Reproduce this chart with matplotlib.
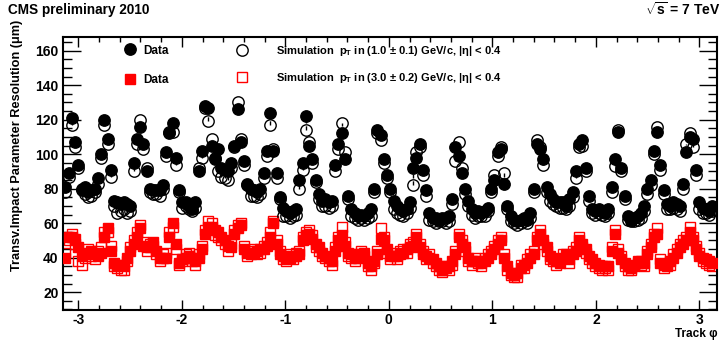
import numpy as np
import matplotlib
matplotlib.use("Agg")
import matplotlib.pyplot as plt
from matplotlib.lines import Line2D
from matplotlib.ticker import MultipleLocator

plt.rcParams['font.family'] = ['Liberation Sans', 'DejaVu Sans']
plt.rcParams['font.weight'] = 'bold'
plt.rcParams['mathtext.fontset'] = 'custom'
plt.rcParams['mathtext.rm'] = 'Liberation Sans:bold'
plt.rcParams['mathtext.it'] = 'Liberation Sans:bold'
plt.rcParams['mathtext.bf'] = 'Liberation Sans:bold'

# ---- data (200 phi bins over [-pi, pi]) ----
n_bins = 200
phi_min, phi_max = -np.pi, np.pi

black_data = [
    81, 89, 121, 107, 94, 79, 81, 78, 79, 80,
    86, 100, 120, 109, 91, 73, 72, 71, 72, 71,
    70, 95, 109, 116, 106, 90, 80, 79, 79, 79,
    82, 101, 112, 118, 98, 79, 72, 72, 70, 68,
    72, 90, 102, 128, 127, 105, 97, 103, 92, 91,
    90, 95, 105, 126, 107, 96, 83, 80, 79, 78,
    80, 89, 102, 124, 102, 89, 75, 69, 67, 66,
    67, 68, 85, 95, 122, 105, 97, 85, 77, 73,
    74, 72, 73, 94, 106, 112, 97, 76, 68, 66,
    64, 65, 64, 66, 68, 80, 114, 111, 97, 88,
    80, 73, 70, 68, 67, 68, 72, 92, 98, 106,
    91, 79, 66, 63, 63, 62, 63, 63, 64, 74,
    104, 99, 89, 80, 73, 68, 66, 67, 66, 67,
    69, 80, 85, 101, 103, 83, 70, 64, 62, 61,
    62, 63, 62, 66, 80, 106, 103, 97, 81, 77,
    74, 72, 72, 72, 70, 74, 78, 90, 106, 108,
    92, 76, 68, 67, 68, 67, 66, 68, 81, 97,
    113, 92, 76, 64, 62, 63, 64, 66, 70, 80,
    85, 102, 113, 94, 79, 71, 70, 72, 71, 70,
    83, 101, 110, 109, 91, 72, 69, 68, 67, 70,
]
black_sim = [
    78, 87, 117, 104, 92, 80, 77, 75, 76, 78,
    83, 98, 117, 106, 87, 70, 66, 67, 68, 66,
    67, 90, 106, 120, 103, 92, 78, 77, 77, 76,
    80, 99, 113, 113, 94, 78, 69, 70, 68, 67,
    69, 92, 98, 127, 119, 109, 98, 90, 87, 86,
    85, 92, 104, 130, 109, 94, 82, 76, 76, 75,
    77, 86, 99, 117, 103, 86, 74, 64, 64, 63,
    64, 65, 80, 91, 114, 107, 95, 84, 74, 70,
    70, 69, 70, 90, 103, 118, 101, 74, 64, 63,
    62, 63, 62, 63, 64, 78, 112, 108, 95, 86,
    78, 68, 66, 65, 64, 66, 69, 82, 101, 104,
    88, 76, 62, 61, 60, 61, 61, 60, 61, 71,
    96, 107, 92, 77, 70, 65, 63, 64, 64, 64,
    67, 78, 88, 99, 104, 89, 68, 61, 60, 59,
    60, 61, 60, 63, 78, 108, 104, 94, 78, 73,
    71, 70, 69, 69, 68, 70, 75, 86, 104, 105,
    90, 73, 66, 65, 66, 65, 64, 66, 78, 93,
    114, 90, 74, 62, 61, 61, 62, 63, 67, 77,
    82, 100, 116, 91, 77, 68, 68, 69, 68, 67,
    80, 106, 112, 104, 88, 68, 66, 66, 65, 67,
]
red_data = [
    40, 52, 52, 51, 46, 41, 42, 43, 44, 42,
    41, 43, 52, 57, 44, 37, 36, 36, 35, 40,
    44, 48, 52, 57, 47, 46, 46, 49, 44, 40,
    40, 40, 52, 60, 48, 37, 39, 40, 41, 40,
    38, 40, 45, 54, 58, 58, 56, 55, 52, 50,
    47, 46, 54, 57, 59, 45, 43, 42, 43, 44,
    45, 45, 47, 52, 60, 48, 42, 41, 40, 40,
    41, 41, 42, 50, 53, 54, 51, 48, 46, 43,
    41, 40, 38, 44, 50, 53, 47, 43, 42, 40,
    40, 42, 43, 37, 35, 38, 42, 51, 50, 45,
    41, 41, 41, 42, 43, 45, 46, 47, 52, 46,
    42, 41, 40, 39, 37, 35, 33, 34, 35, 38,
    42, 52, 48, 46, 40, 38, 38, 38, 37, 38,
    40, 42, 45, 48, 50, 40, 35, 31, 30, 31,
    34, 36, 37, 40, 42, 50, 54, 50, 46, 41,
    40, 38, 37, 40, 42, 39, 42, 44, 50, 48,
    45, 41, 39, 37, 36, 35, 35, 35, 44, 54,
    43, 39, 37, 35, 34, 36, 38, 38, 37, 42,
    46, 52, 54, 37, 36, 36, 38, 40, 43, 46,
    48, 50, 55, 50, 45, 41, 40, 39, 38, 37,
]
red_sim = [
    43, 50, 54, 48, 38, 36, 40, 45, 41, 39,
    44, 46, 55, 55, 47, 35, 34, 33, 33, 38,
    46, 50, 55, 59, 49, 44, 48, 47, 42, 38,
    42, 43, 55, 58, 45, 36, 38, 42, 43, 38,
    36, 42, 47, 56, 61, 60, 53, 52, 50, 48,
    44, 48, 56, 59, 60, 47, 41, 44, 45, 42,
    43, 47, 49, 55, 61, 50, 44, 39, 38, 42,
    39, 43, 44, 52, 55, 56, 53, 46, 44, 41,
    40, 38, 36, 46, 52, 58, 49, 41, 40, 38,
    42, 44, 41, 35, 33, 37, 44, 57, 52, 43,
    39, 43, 39, 44, 45, 43, 48, 49, 54, 48,
    44, 39, 42, 37, 35, 33, 32, 35, 33, 36,
    44, 54, 50, 44, 38, 36, 40, 37, 35, 40,
    42, 44, 47, 50, 52, 42, 33, 30, 29, 29,
    36, 34, 39, 42, 44, 52, 56, 48, 44, 39,
    38, 36, 39, 42, 40, 37, 44, 46, 52, 46,
    43, 39, 37, 35, 34, 33, 34, 33, 46, 56,
    45, 41, 35, 33, 33, 35, 37, 36, 35, 44,
    48, 54, 57, 39, 34, 35, 36, 42, 45, 48,
    50, 52, 58, 52, 47, 43, 38, 37, 36, 35,
]

x_ticks = [-3, -2, -1, 0, 1, 2, 3]
y_ticks = [20, 40, 60, 80, 100, 120, 140, 160]

edges = np.linspace(phi_min, phi_max, n_bins + 1)
phi = 0.5 * (edges[:-1] + edges[1:])
bd, bs = np.array(black_data), np.array(black_sim)
rd, rs = np.array(red_data), np.array(red_sim)

W, H = 722, 342
fig = plt.figure(figsize=(W / 100, H / 100), dpi=100)
L, R, B, T = 62.7, 716.7, 310, 37
ax = fig.add_axes([L / W, 1 - B / H, (R - L) / W, (B - T) / H])

ms_c = 8.2
ms_s = 7.8
# dashed connectors between data and simulation (black series)
ax.vlines(phi, np.minimum(bd, bs), np.maximum(bd, bs), colors='black',
          linestyles=(0, (3, 2)), linewidth=1.0, zorder=1)
ax.plot(phi, rs, linestyle='none', marker='s', ms=ms_s, mfc='none',
        mec='#ff0000', mew=1.0, zorder=2)
ax.plot(phi, rd, linestyle='none', marker='s', ms=ms_s, mfc='#ff0000',
        mec='#ff0000', zorder=3)
ax.plot(phi, bs, linestyle='none', marker='o', ms=ms_c, mfc='none',
        mec='black', mew=1.0, zorder=2)
ax.plot(phi, bd, linestyle='none', marker='o', ms=ms_c, mfc='black',
        mec='black', zorder=3)

ax.set_xlim(-3.151, 3.168)
ax.set_ylim(9.7, 167.9)
ax.set_xticks(x_ticks)
ax.set_xticklabels([str(t) for t in x_ticks])
ax.set_yticks(y_ticks)
ax.xaxis.set_minor_locator(MultipleLocator(0.2))
ax.yaxis.set_minor_locator(MultipleLocator(5))
ax.tick_params(which='both', direction='in', top=True, right=True, width=1.0,
               labelsize=10)
ax.tick_params(axis='x', which='major', length=7.2, pad=2.5)
ax.tick_params(axis='x', which='minor', length=3.6)
ax.tick_params(axis='y', which='major', length=13, pad=3)
ax.tick_params(axis='y', which='minor', length=6.5)
for s in ax.spines.values():
    s.set_linewidth(1.5)

# legend
fs_leg = 8.5
fs_leg2 = 8.0
h1 = [Line2D([], [], ls='none', marker='o', ms=ms_c, mfc='black', mec='black'),
      Line2D([], [], ls='none', marker='s', ms=ms_s, mfc='#ff0000', mec='#ff0000')]
h2 = [Line2D([], [], ls='none', marker='o', ms=ms_c, mfc='none', mec='black', mew=1.0),
      Line2D([], [], ls='none', marker='s', ms=ms_s, mfc='none', mec='#ff0000', mew=1.0)]
leg1 = ax.legend(h1, ['Data', 'Data'], loc='upper left', frameon=False,
                 bbox_to_anchor=((124 - L) / (R - L), 1 - (44.5 - T) / (B - T)),
                 borderaxespad=0, borderpad=0, handlelength=1.0,
                 handletextpad=0.6, labelspacing=1.47, fontsize=fs_leg)
ax.add_artist(leg1)
ax.legend(h2, [r'Simulation  $p_T$ in (1.0 $\pm$ 0.1) GeV/c, |η| < 0.4',
               r'Simulation  $p_T$ in (3.0 $\pm$ 0.2) GeV/c, |η| < 0.4'],
          loc='upper left', frameon=False,
          bbox_to_anchor=((236.5 - L) / (R - L), 1 - (43.5 - T) / (B - T)),
          borderaxespad=0, borderpad=0, handlelength=1.05,
          handletextpad=2.55, labelspacing=1.2, fontsize=fs_leg2)

# texts
fig.text(8 / W, 1 - 10 / H, 'CMS preliminary 2010', fontsize=9.8, fontweight='bold',
         ha='left', va='center')
fig.text(720 / W, 1 - 10 / H, r'$\sqrt{s}$ = 7 TeV', fontsize=10, fontweight='bold',
         ha='right', va='center')
fig.text(17 / W, 1 - 20 / H, 'Transv.Impact Parameter Resolution (μm)', fontsize=9.2,
         fontweight='bold', rotation=90, ha='center', va='top')
fig.text(718 / W, 1 - 334 / H, 'Track φ', fontsize=8.5, fontweight='bold',
         ha='right', va='center')

fig.savefig('out.png', dpi=100)
